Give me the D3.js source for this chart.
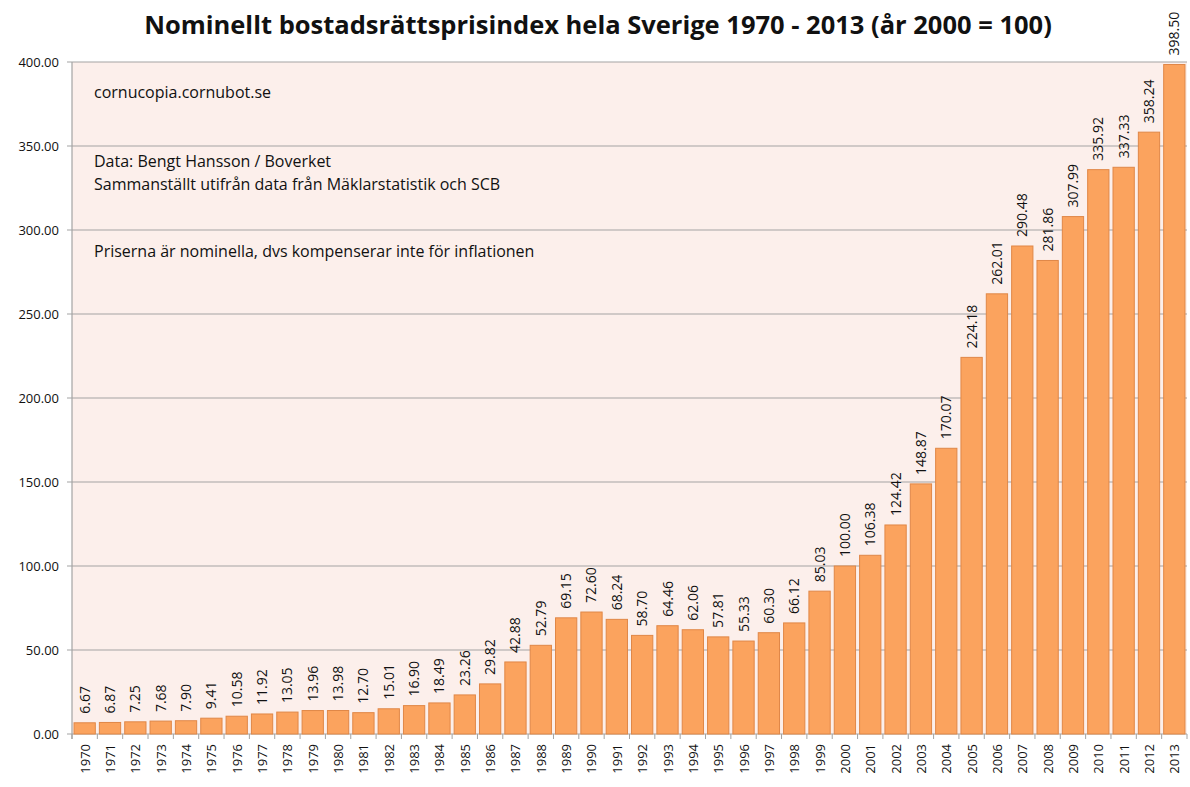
<!DOCTYPE html>
<html lang="sv">
<head>
<meta charset="UTF-8" />
<title>Nominellt bostadsrättsprisindex</title>
<script src="https://d3js.org/d3.v7.min.js"></script>
<style>
  body { margin: 0; background: #fff; }
  svg text { font-family: "Open Sans", "Noto Sans", sans-serif; fill: #111; }
</style>
</head>
<body>
<div id="chart"></div>
<script>
// chart values
var years = d3.range(1970, 2014).map(String);
var values = [6.67, 6.87, 7.25, 7.68, 7.90, 9.41, 10.58, 11.92, 13.05, 13.96,
              13.98, 12.70, 15.01, 16.90, 18.49, 23.26, 29.82, 42.88, 52.79, 69.15,
              72.60, 68.24, 58.70, 64.46, 62.06, 57.81, 55.33, 60.30, 66.12, 85.03,
              100.00, 106.38, 124.42, 148.87, 170.07, 224.18, 262.01, 290.48, 281.86, 307.99,
              335.92, 337.33, 358.24, 398.50];
var yTicks = [0, 50, 100, 150, 200, 250, 300, 350, 400];
var notes = [
    {v: 378.5, lines: ["cornucopia.cornubot.se"]},
    {v: 337.5, lines: ["Data: Bengt Hansson / Boverket", "Sammanställt utifrån data från Mäklarstatistik och SCB"]},
    {v: 284, lines: ["Priserna är nominella, dvs kompenserar inte för inflationen"]}
];

var width = 1190, height = 787;
var margin = {top: 62, right: 3, bottom: 53, left: 72};
var w = width - margin.left - margin.right;
var h = height - margin.top - margin.bottom;

var svg = d3.select("#chart").append("svg")
    .attr("width", width)
    .attr("height", height);

svg.append("text")
    .attr("x", 598)
    .attr("y", 34)
    .attr("text-anchor", "middle")
    .style("font-size", "25.5px")
    .style("font-weight", "bold")
    .text("Nominellt bostadsrättsprisindex hela Sverige 1970 - 2013 (år 2000 = 100)");

var g = svg.append("g")
    .attr("transform", "translate(" + margin.left + "," + margin.top + ")");

var x = d3.scaleBand().domain(years).range([0, w]).paddingInner(0.16).paddingOuter(0.08);
var y = d3.scaleLinear().domain([0, 400]).range([h, 0]);

// plot background
g.append("rect")
    .attr("width", w)
    .attr("height", h)
    .attr("fill", "#fcefeb");

// gridlines
g.selectAll("line.grid")
    .data(yTicks)
    .enter()
    .append("line")
    .attr("class", "grid")
    .attr("x1", -5)
    .attr("x2", w)
    .attr("y1", function(d) { return y(d); })
    .attr("y2", function(d) { return y(d); })
    .attr("stroke", "#a3a3a3")
    .attr("stroke-width", 1.2);

// y axis labels
g.selectAll("text.ylab")
    .data(yTicks)
    .enter()
    .append("text")
    .attr("class", "ylab")
    .attr("x", -13)
    .attr("y", function(d) { return y(d) + 5; })
    .attr("text-anchor", "end")
    .style("font-size", "13px")
    .text(function(d) { return d.toFixed(2); });

// left axis line
g.append("line")
    .attr("x1", 0).attr("x2", 0)
    .attr("y1", 0).attr("y2", h + 5)
    .attr("stroke", "#a3a3a3")
    .attr("stroke-width", 1.2);

// x ticks between bands
g.selectAll("line.xtick")
    .data(d3.range(years.length + 1))
    .enter()
    .append("line")
    .attr("class", "xtick")
    .attr("x1", function(i) { return i * w / years.length; })
    .attr("x2", function(i) { return i * w / years.length; })
    .attr("y1", h)
    .attr("y2", h + 5)
    .attr("stroke", "#a3a3a3");

// bars
g.selectAll("rect.bar")
    .data(values)
    .enter()
    .append("rect")
    .attr("class", "bar")
    .attr("x", function(d, i) { return x(years[i]); })
    .attr("y", function(d) { return y(d); })
    .attr("width", x.bandwidth())
    .attr("height", function(d) { return h - y(d); })
    .attr("fill", "#fba35e")
    .attr("stroke", "#e08747")
    .attr("stroke-width", 1);

// value labels
g.selectAll("text.val")
    .data(values)
    .enter()
    .append("text")
    .attr("class", "val")
    .attr("transform", function(d, i) {
        return "translate(" + (x(years[i]) + x.bandwidth() / 2 + 5) + "," + (y(d) - 9) + ") rotate(-90)";
    })
    .style("font-size", "14px")
    .text(function(d) { return d.toFixed(2); });

// x labels
g.selectAll("text.xlab")
    .data(years)
    .enter()
    .append("text")
    .attr("class", "xlab")
    .attr("transform", function(d) {
        return "translate(" + (x(d) + x.bandwidth() / 2 + 5) + "," + (h + 10) + ") rotate(-90)";
    })
    .attr("text-anchor", "end")
    .style("font-size", "13px")
    .text(function(d) { return d; });

// annotations
notes.forEach(function(n) {
    n.lines.forEach(function(line, k) {
        g.append("text")
            .attr("x", 22)
            .attr("y", y(n.v) + k * 23)
            .style("font-size", "16px")
            .text(line);
    });
});
</script>
</body>
</html>
